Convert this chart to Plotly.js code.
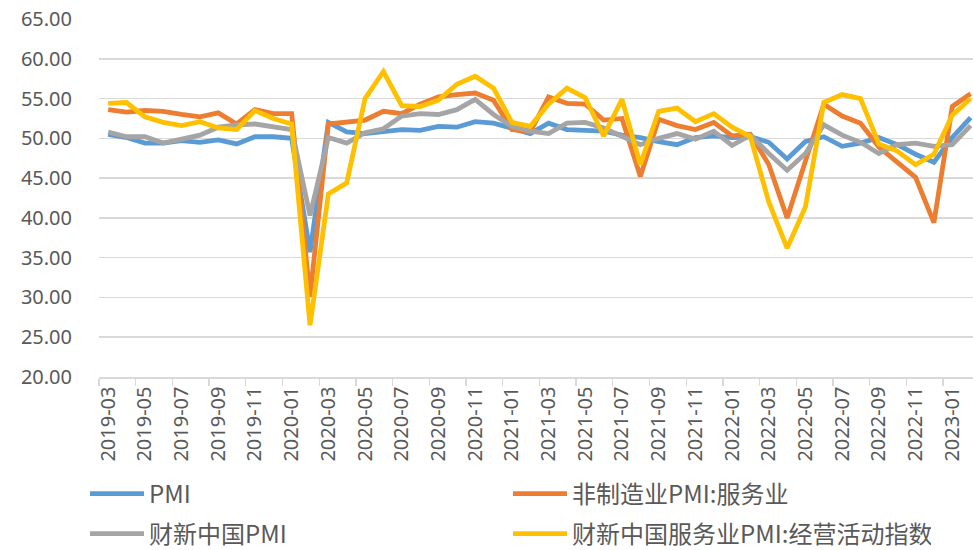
<!DOCTYPE html>
<html>
<head>
<meta charset="utf-8">
<script src="https://cdn.plot.ly/plotly-3.0.1.min.js"></script>
<style>html,body{margin:0;padding:0;background:#fff;}#chart{width:973px;height:550px;}</style>
</head>
<body>
<div id="chart"></div>
<script>
const months = ["2019-03","2019-04","2019-05","2019-06","2019-07","2019-08","2019-09","2019-10","2019-11","2019-12",
"2020-01","2020-02","2020-03","2020-04","2020-05","2020-06","2020-07","2020-08","2020-09","2020-10","2020-11","2020-12",
"2021-01","2021-02","2021-03","2021-04","2021-05","2021-06","2021-07","2021-08","2021-09","2021-10","2021-11","2021-12",
"2022-01","2022-02","2022-03","2022-04","2022-05","2022-06","2022-07","2022-08","2022-09","2022-10","2022-11","2022-12",
"2023-01","2023-02"];

const pmi = [50.5,50.1,49.4,49.4,49.7,49.5,49.8,49.3,50.2,50.2,
50.0,35.7,52.0,50.8,50.6,50.9,51.1,51.0,51.5,51.4,52.1,51.9,
51.3,50.6,51.9,51.1,51.0,50.9,50.4,50.1,49.6,49.2,50.1,50.3,
50.1,50.2,49.5,47.4,49.6,50.2,49.0,49.4,50.1,49.2,48.0,47.0,
50.1,52.6];

const nonMfgServices = [53.6,53.3,53.5,53.4,53.0,52.7,53.2,51.8,53.6,53.1,
53.1,30.1,51.8,52.1,52.3,53.4,53.1,54.3,55.2,55.5,55.7,54.8,
51.1,50.8,55.2,54.4,54.3,52.3,52.5,45.2,52.4,51.6,51.1,52.0,
50.3,50.5,46.7,40.0,47.1,54.3,52.8,51.9,48.9,47.0,45.1,39.4,
54.0,55.6];

const caixinPmi = [50.8,50.2,50.2,49.4,49.9,50.4,51.4,51.7,51.8,51.5,
51.1,40.3,50.1,49.4,50.7,51.2,52.8,53.1,53.0,53.6,54.9,53.0,
51.5,50.9,50.6,51.9,52.0,51.3,50.3,49.2,50.0,50.6,49.9,50.9,
49.1,50.4,48.1,46.0,48.1,51.7,50.4,49.5,48.1,49.2,49.4,49.0,
49.2,51.6];

const caixinServices = [54.4,54.5,52.7,52.0,51.6,52.1,51.3,51.1,53.5,52.5,
51.8,26.5,43.0,44.4,55.0,58.4,54.1,54.0,54.8,56.8,57.8,56.3,
52.0,51.5,54.3,56.3,55.1,50.3,54.9,46.7,53.4,53.8,52.1,53.1,
51.4,50.2,42.0,36.2,41.4,54.5,55.5,55.0,49.3,48.4,46.7,48.0,
52.9,55.0];

const seriesNames = ["PMI","非制造业PMI:服务业","财新中国PMI","财新中国服务业PMI:经营活动指数"];
const colors = ["#5B9BD5","#ED7D31","#A5A5A5","#FFC000"];
const values = [pmi, nonMfgServices, caixinPmi, caixinServices];
const legendIds = ["legend","legend","legend2","legend2"];

const traces = values.map((v,i)=>({
  type:"scatter", mode:"lines", x:months, y:v, name:seriesNames[i],
  line:{color:colors[i], width:4.8},
  legend:legendIds[i], hoverinfo:"skip"
}));

const legFont = {family:"Noto Sans CJK SC, Noto Sans, sans-serif", size:24, color:"#595959"};
function legendAt(yc){
  return {
    orientation:"h", xref:"container", yref:"container",
    x:85/973, xanchor:"left", y:1-yc/550, yanchor:"middle",
    entrywidth:354, entrywidthmode:"pixels", itemwidth:54,
    font:legFont, bgcolor:"rgba(0,0,0,0)", traceorder:"normal"
  };
}
const layout = {
  width:973, height:550,
  margin:{l:99, r:0, t:19, b:173},
  paper_bgcolor:"#fff", plot_bgcolor:"#fff",
  showlegend:true,
  xaxis:{
    type:"category", range:[-0.5,47.13], dtick:2, tick0:0,
    tickson:"boundaries", ticks:"outside", ticklen:7, tickwidth:1.3, tickcolor:"#d9d9d9",
    tickangle:-90, showgrid:false, showline:true, linecolor:"#d9d9d9", linewidth:1.5,
    tickfont:{family:"Noto Sans, sans-serif", size:20, color:"#595959"},
    zeroline:false, fixedrange:true
  },
  yaxis:{
    range:[20,65], dtick:5, tick0:20, tickformat:".2f",
    showgrid:true, gridcolor:"#d9d9d9", gridwidth:1.5, zeroline:false, showline:false,
    ticks:"", ticklabelstandoff:26,
    tickfont:{family:"Noto Sans, sans-serif", size:20, color:"#595959"},
    fixedrange:true
  },
  legend:legendAt(494),
  legend2:legendAt(534)
};

Plotly.newPlot("chart", traces, layout, {displayModeBar:false, staticPlot:true});
</script>
</body>
</html>
